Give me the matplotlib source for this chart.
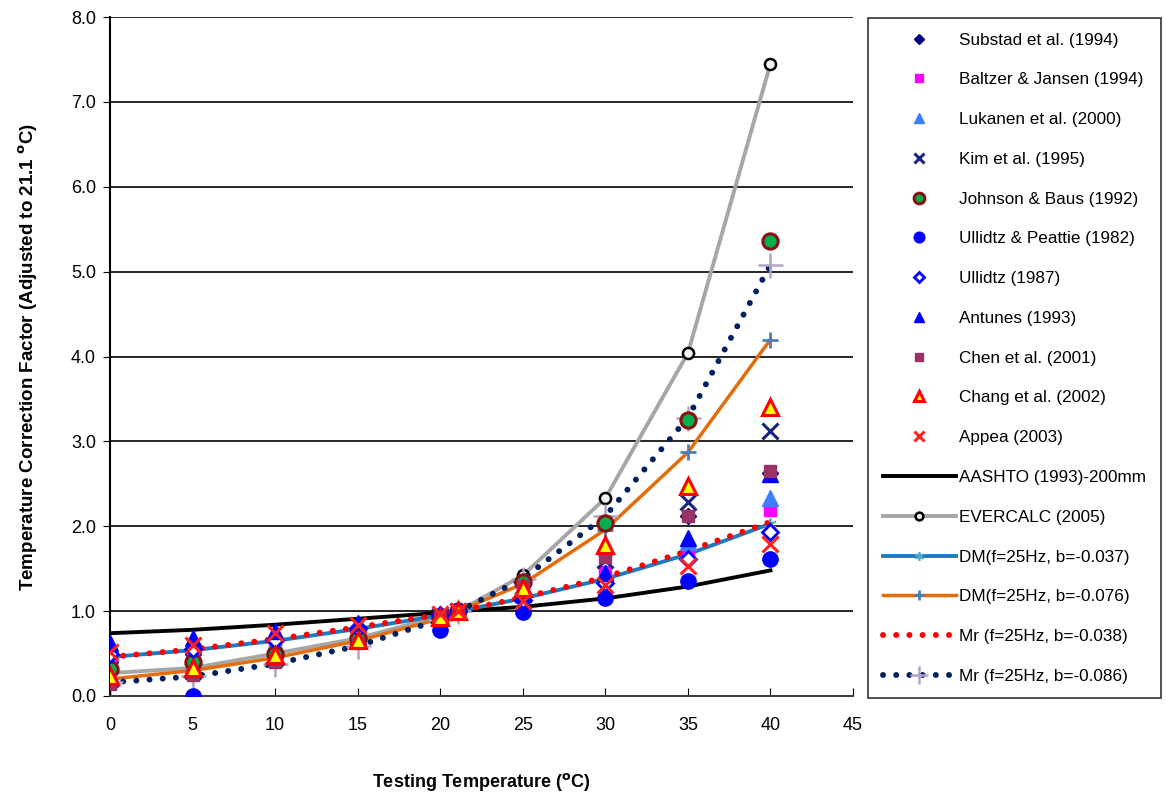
import numpy as np
import matplotlib
matplotlib.use("Agg")
import matplotlib.pyplot as plt

plt.rcParams['font.family'] = ['Liberation Sans', 'DejaVu Sans']

# testing temperatures (C)
temps = [0, 5, 10, 15, 20, 21.1, 25, 30, 35, 40]
nan = np.nan

# measured correction factors by study
substad = [0.40, 0.50, 0.65, 0.78, 0.95, 1.0, 1.20, 1.37, 2.12, 2.63]
baltzer = [0.38, 0.45, 0.60, 0.75, 0.95, 1.0, 1.20, 1.46, 1.72, 2.19]
lukanen = [0.42, 0.48, 0.62, 0.77, 0.95, 1.0, 1.20, 1.45, 1.82, 2.33]
kim = [0.20, 0.30, 0.45, 0.70, 0.94, 1.0, 1.30, 1.60, 2.29, 3.12]
johnson = [0.32, 0.40, 0.50, 0.68, 0.93, 1.0, 1.34, 2.04, 3.25, 5.36]
ullidtz_peattie = [nan, 0.0, nan, nan, 0.78, 1.0, 0.99, 1.15, 1.36, 1.62]
ullidtz = [0.50, 0.55, 0.66, 0.80, 0.95, 1.0, 1.13, 1.33, 1.62, 1.93]
antunes = [0.62, 0.68, 0.76, 0.86, 0.97, 1.0, 1.20, 1.45, 1.86, 2.61]
chen = [0.14, 0.25, 0.40, 0.62, 0.92, 1.0, 1.30, 1.64, 2.12, 2.65]
chang = [0.24, 0.33, 0.48, 0.66, 0.93, 1.0, 1.27, 1.78, 2.47, 3.40]
appea = [0.52, 0.60, 0.74, 0.84, 0.97, 1.0, 1.12, 1.31, 1.53, 1.79]

# model curves
aashto = [0.74, 0.78, 0.84, 0.91, 0.98, 1.0, 1.05, 1.15, 1.29, 1.48]
evercalc = [0.27, 0.33, 0.50, 0.68, 0.94, 1.0, 1.42, 2.33, 4.04, 7.45]
dm_037 = [0.46, 0.54, 0.65, 0.79, 0.95, 1.0, 1.15, 1.38, 1.67, 2.03]
dm_076 = [0.20, 0.30, 0.45, 0.65, 0.91, 1.0, 1.32, 1.96, 2.87, 4.20]
mr_038 = [0.46, 0.55, 0.67, 0.81, 0.96, 1.0, 1.16, 1.40, 1.71, 2.05]
mr_086 = [0.16, 0.23, 0.38, 0.59, 0.90, 1.0, 1.38, 2.12, 3.28, 5.08]

fig = plt.figure(figsize=(11.66, 7.96), dpi=100)
ax = fig.add_axes([110 / 1166, 1 - 696 / 796, 743 / 1166, 679 / 796])

# lines first
dots = dict(linestyle=(0, (0.01, 2.2)), dash_capstyle='round', linewidth=4.3)
ax.plot(temps, aashto, color='black', lw=2.8, label='AASHTO (1993)-200mm', zorder=2)
ax.plot(temps, evercalc, color='#a6a6a6', lw=2.8, marker='o', ms=8,
        mfc='#f2f2f2', mec='black', mew=1.8, label='EVERCALC (2005)', zorder=2)
ax.plot(temps, dm_037, color='#1f7ac0', lw=2.8, marker=(6, 2, 0), ms=9,
        mec='#4bacc6', mew=1.2, label='DM(f=25Hz, b=-0.037)', zorder=2)
ax.plot(temps, dm_076, color='#e46c0a', lw=2.5, marker='+', ms=11,
        mec='#4a7ebb', mew=2, label='DM(f=25Hz, b=-0.076)', zorder=2)
ax.plot(temps, mr_038, color='#ff0000', label='Mr (f=25Hz, b=-0.038)', zorder=3, **dots)
ax.plot(temps, mr_086, color='#002060', marker='+', ms=18, mec='#b3a2c7', mew=1.8,
        label='Mr (f=25Hz, b=-0.086)', zorder=2, **dots)

# measured points
pts = dict(linestyle='none', zorder=4)
ax.plot(temps, substad, marker='D', ms=8, color='#000080', label='Substad et al. (1994)', **pts)
ax.plot(temps, baltzer, marker='s', ms=9, color='#ff00ff', label='Baltzer & Jansen (1994)', **pts)
ax.plot(temps, lukanen, marker='^', ms=11, color='#3d7eff', label='Lukanen et al. (2000)', **pts)
ax.plot(temps, kim, marker='x', ms=11, mew=2.2, color='#1a237e', label='Kim et al. (1995)', **pts)
ax.plot(temps, johnson, marker='o', ms=11, mfc='#00b050', mec='#8b1010', mew=2.2,
        label='Johnson & Baus (1992)', **pts)
ax.plot(temps, ullidtz_peattie, marker='o', ms=11, color='#0000ff', label='Ullidtz & Peattie (1982)', **pts)
ax.plot(temps, ullidtz, marker='D', ms=8, mfc='white', mec='#0000ff', mew=2,
        label='Ullidtz (1987)', **pts)
ax.plot(temps, antunes, marker='^', ms=11, color='#0000ff', label='Antunes (1993)', **pts)
ax.plot(temps, chen, marker='s', ms=9, color='#993366', label='Chen et al. (2001)', **pts)
ax.plot(temps, chang, marker='^', ms=11, mfc='#ffff00', mec='#ff0000', mew=2.2,
        label='Chang et al. (2002)', **pts)
ax.plot(temps, appea, marker='x', ms=11, mew=2.2, color='#ff2020', label='Appea (2003)', **pts)

ax.set_xlim(0, 45)
ax.set_ylim(0, 8)
ax.set_xticks(range(0, 50, 5))
ax.set_yticks(range(0, 9))
ax.set_yticklabels([f'{v:.1f}' for v in range(0, 9)])
ax.tick_params(axis='x', direction='in', length=6, pad=15, labelsize=13)
ax.tick_params(axis='y', direction='out', length=5, pad=5, labelsize=13)
ax.yaxis.grid(True, color='black', lw=1.2)
ax.set_axisbelow(True)
ax.spines['top'].set_visible(False)
ax.spines['right'].set_visible(False)
ax.spines['left'].set_linewidth(1.5)
ax.spines['bottom'].set_linewidth(1.5)
ax.spines['bottom'].set_color('#404040')

ax.set_ylabel(r'Temperature Correction Factor (Adjusted to 21.1 $^{\mathbf{o}}$C)',
              fontsize=13.5, fontweight='bold', labelpad=22)
ax.set_xlabel(r'Testing Temperature ($^{\mathbf{o}}$C)', fontsize=13, fontweight='bold',
              labelpad=27)

# legend order as in the box
handles, labels = ax.get_legend_handles_labels()
order = labels[6:] + labels[:6]
hmap = dict(zip(labels, handles))
leg = fig.legend([hmap[l] for l in order], order, loc='upper left',
                 bbox_to_anchor=(868 / 1166, 1 - 18 / 796), fontsize=12.3,
                 frameon=True, fancybox=False, edgecolor='black', numpoints=1,
                 markerscale=0.7, handlelength=4.3, labelspacing=1.45,
                 borderpad=0.85, handletextpad=0.2, borderaxespad=0)
leg.get_frame().set_linewidth(1.2)

fig.savefig('out.png', dpi=100)
